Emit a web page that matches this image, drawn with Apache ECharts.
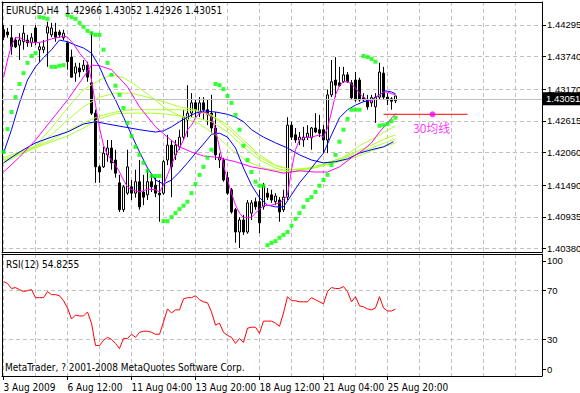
<!DOCTYPE html>
<html><head><meta charset="utf-8">
<script src="https://cdn.jsdelivr.net/npm/echarts/dist/echarts.min.js"></script>
<style>html,body{margin:0;padding:0;background:#fff}#c{width:580px;height:393px}</style>
</head><body><div id="c"></div>
<script>
const FONT = "'DejaVu Sans Condensed','Liberation Sans',sans-serif";
const AXFONT = "'Liberation Sans',sans-serif";
const FS = 10;
const chartTitle = 'EURUSD,H4  1.42966 1.43052 1.42926 1.43051';
const rsiTitle = 'RSI(12) 54.8255';
const copyright = 'MetaTrader, ? 2001-2008 MetaQuotes Software Corp.';
const lastPrice = 1.43051;

const barOpen = [1.4421,1.4417,1.4407,1.4403,1.4394,1.4400,1.4403,1.4398,1.4424,1.4386,
1.4386,1.4415,1.4412,1.4417,1.4417,1.4407,1.4398,1.4373,1.4345,1.4354,
1.4351,1.4359,1.4328,1.4275,1.4181,1.4181,1.4202,1.4214,1.4193,1.4153,
1.4106,1.4135,1.4146,1.4135,1.4155,1.4137,1.4132,1.4155,1.4149,1.4135,
1.4135,1.4193,1.4219,1.4202,1.4216,1.4233,1.4263,1.4275,1.4293,1.4275,
1.4293,1.4281,1.4275,1.4249,1.4193,1.4193,1.4162,1.4141,1.4106,1.4067,
1.4088,1.4067,1.4100,1.4120,1.4120,1.4111,1.4135,1.4132,1.4120,1.4123,
1.4106,1.4128,1.4254,1.4237,1.4228,1.4228,1.4233,1.4232,1.4249,1.4246,
1.4246,1.4228,1.4307,1.4333,1.4328,1.4330,1.4342,1.4328,1.4333,1.4333,
1.4302,1.4298,1.4293,1.4286,1.4303,1.4345,1.4303,1.4300,1.42966];
const barClose = [1.4408,1.4412,1.4391,1.4391,1.4403,1.4415,1.4398,1.4407,1.4400,1.4391,
1.4391,1.4426,1.4424,1.4408,1.4412,1.4415,1.4365,1.4338,1.4356,1.4347,
1.4359,1.4338,1.4275,1.4181,1.4172,1.4205,1.4214,1.4188,1.4170,1.4106,
1.4146,1.4181,1.4135,1.4155,1.4111,1.4128,1.4155,1.4146,1.4135,1.4132,
1.4190,1.4219,1.4181,1.4219,1.4233,1.4268,1.4275,1.4293,1.4281,1.4293,
1.4281,1.4272,1.4249,1.4202,1.4198,1.4158,1.4135,1.4102,1.4067,1.4088,
1.4067,1.4118,1.4118,1.4111,1.4083,1.4148,1.4128,1.4123,1.4130,1.4102,
1.4128,1.4254,1.4233,1.4228,1.4233,1.4233,1.4240,1.4249,1.4242,1.4240,
1.4228,1.4307,1.4330,1.4324,1.4323,1.4342,1.4330,1.4302,1.4298,1.4298,
1.4298,1.4286,1.4302,1.4303,1.4347,1.4303,1.4298,1.4296,1.43051];
const barLow = [1.4403,1.4407,1.4377,1.4389,1.4368,1.4386,1.4391,1.4391,1.4394,1.4365,
1.4380,1.4356,1.4408,1.4400,1.4407,1.4403,1.4351,1.4337,1.4330,1.4338,
1.4347,1.4330,1.4272,1.4153,1.4153,1.4179,1.4190,1.4176,1.4162,1.4102,
1.4102,1.4132,1.4123,1.4127,1.4106,1.4114,1.4123,1.4137,1.4128,1.4085,
1.4132,1.4184,1.4128,1.4193,1.4211,1.4228,1.4233,1.4268,1.4268,1.4268,
1.4263,1.4254,1.4240,1.4193,1.4179,1.4155,1.4132,1.4099,1.4048,1.4039,
1.4062,1.4064,1.4088,1.4106,1.4065,1.4106,1.4123,1.4118,1.4114,1.4085,
1.4102,1.4123,1.4228,1.4223,1.4219,1.4216,1.4228,1.4211,1.4240,1.4233,
1.4205,1.4205,1.4303,1.4303,1.4321,1.4328,1.4328,1.4298,1.4295,1.4295,
1.4295,1.4281,1.4286,1.4258,1.4298,1.4298,1.4289,1.4281,1.42926];
const barHigh = [1.4429,1.4424,1.4429,1.4408,1.4415,1.4429,1.4412,1.4415,1.4429,1.4398,
1.4403,1.4435,1.4433,1.4433,1.4421,1.4421,1.4400,1.4386,1.4363,1.4363,
1.4368,1.4365,1.4417,1.4281,1.4184,1.4216,1.4228,1.4228,1.4211,1.4167,
1.4149,1.4211,1.4158,1.4176,1.4193,1.4167,1.4176,1.4167,1.4162,1.4158,
1.4193,1.4237,1.4228,1.4228,1.4246,1.4281,1.4324,1.4310,1.4298,1.4303,
1.4303,1.4298,1.4307,1.4277,1.4205,1.4197,1.4172,1.4144,1.4109,1.4093,
1.4097,1.4123,1.4123,1.4127,1.4141,1.4153,1.4144,1.4141,1.4135,1.4128,
1.4141,1.4268,1.4260,1.4249,1.4242,1.4251,1.4254,1.4251,1.4275,1.4272,
1.4254,1.4316,1.4368,1.4373,1.4356,1.4356,1.4347,1.4333,1.4347,1.4337,
1.4310,1.4307,1.4307,1.4310,1.4363,1.4356,1.4310,1.4303,1.43052];

const sarValues = [1.4207,1.4247,1.4277,1.4303,1.4326,1.4345,1.4363,1.4375,1.4380,1.4443,
1.4442,1.4440,1.4356,1.4356,1.4358,1.4359,1.4447,1.4443,1.4440,1.4433,
1.4426,1.4419,1.4415,1.4412,1.4412,1.4386,1.4363,1.4342,1.4323,1.4307,
1.4284,1.4258,1.4235,1.4216,1.4202,1.4188,1.4174,1.4165,1.4165,1.4165,
1.4086,1.4086,1.4093,1.4100,1.4107,1.4113,1.4120,1.4135,1.4151,1.4167,
1.4181,1.4197,1.4211,1.4326,1.4324,1.4317,1.4305,1.4293,1.4272,1.4246,
1.4218,1.4193,1.4172,1.4155,1.4148,1.4148,1.4044,1.4048,1.4051,1.4057,
1.4062,1.4067,1.4078,1.4090,1.4100,1.4111,1.4123,1.4128,1.4137,1.4148,
1.4158,1.4167,1.4184,1.4202,1.4225,1.4246,1.4265,1.4281,1.4281,1.4281,
1.4375,1.4373,1.4370,1.4365,1.4253,1.4254,1.4256,1.4261,1.4267];

const maFastMagenta = [[0,1.4337],[1,1.4368],[2,1.4394],[3,1.4407],[4,1.4407],[6,1.4400],[8,1.4398],[10,1.4400],[12,1.4405],[14,1.4408],[15,1.4410],[16,1.4408],[17,1.4400],[18,1.4391],[19,1.4380],[20,1.4372],[21,1.4363],[22,1.4333],[23,1.4289],[24,1.4249],[25,1.4219],[26,1.4202],[27,1.4193],[28,1.4184],[29,1.4172],[30,1.4158],[31,1.4146],[32,1.4141],[34,1.4137],[36,1.4142],[38,1.4141],[39,1.4137],[40,1.4149],[41,1.4167],[42,1.4184],[43,1.4202],[44,1.4214],[45,1.4228],[46,1.4246],[47,1.4254],[48,1.4267],[49,1.4275],[50,1.4277],[51,1.4275],[52,1.4267],[53,1.4246],[54,1.4214],[55,1.4184],[56,1.4158],[57,1.4135],[58,1.4114],[59,1.4100],[60,1.4092],[61,1.4092],[62,1.4093],[63,1.4100],[64,1.4107],[65,1.4113],[67,1.4114],[69,1.4118],[70,1.4123],[71,1.4132],[72,1.4176],[73,1.4211],[74,1.4228],[75,1.4232],[77,1.4233],[79,1.4237],[80,1.4233],[81,1.4249],[82,1.4277],[83,1.4307],[84,1.4323],[85,1.4330],[86,1.4330],[87,1.4326],[88,1.4319],[89,1.4310],[90,1.4303],[91,1.4298],[92,1.4296],[93,1.4302],[94,1.4307],[95,1.4312],[96,1.4312],[97,1.4309],[98,1.4307]];
const maSlowMagenta = [[0,1.4172],[4,1.4198],[8,1.4228],[12,1.4263],[16,1.4298],[20,1.4338],[22,1.4359],[24,1.4358],[27,1.4351],[31,1.4321],[34,1.4286],[38,1.4251],[41,1.4233],[44,1.4216],[47,1.4207],[50,1.4200],[53,1.4198],[58,1.4190],[62,1.4181],[66,1.4176],[70,1.4170],[74,1.4174],[78,1.4172],[81,1.4172],[84,1.4181],[87,1.4197],[90,1.4211],[92,1.4223],[94,1.4242],[96,1.4258],[98,1.4274]];
const maFastBlue = [[0,1.4205],[2,1.4246],[4,1.4293],[6,1.4333],[8,1.4356],[10,1.4372],[12,1.4386],[14,1.4403],[16,1.4400],[18,1.4394],[20,1.4389],[22,1.4380],[24,1.4356],[26,1.4324],[28,1.4298],[30,1.4268],[32,1.4237],[34,1.4207],[36,1.4179],[38,1.4158],[40,1.4151],[42,1.4158],[44,1.4172],[46,1.4188],[48,1.4205],[50,1.4221],[52,1.4238],[54,1.4240],[56,1.4233],[58,1.4214],[60,1.4179],[62,1.4149],[64,1.4127],[66,1.4114],[68,1.4111],[70,1.4111],[72,1.4132],[74,1.4153],[76,1.4170],[78,1.4188],[80,1.4205],[82,1.4237],[84,1.4267],[86,1.4281],[88,1.4289],[90,1.4295],[92,1.4298],[94,1.4307],[95.5,1.4314],[97,1.4312],[98,1.4309]];
const maSlowBlue = [[0,1.4188],[4,1.4207],[8,1.4223],[12,1.4233],[16,1.4242],[20,1.4256],[23,1.4260],[26,1.4256],[30,1.4251],[34,1.4246],[38,1.4242],[40,1.4244],[42,1.4251],[44,1.4260],[46,1.4268],[48,1.4275],[50,1.4279],[53,1.4277],[56,1.4273],[58,1.4268],[60,1.4260],[62,1.4246],[65,1.4233],[68,1.4223],[71,1.4214],[74,1.4202],[77,1.4193],[80,1.4188],[83,1.4190],[86,1.4195],[89,1.4205],[92,1.4211],[95,1.4216],[97.5,1.4225]];
const maGreen1 = [[0,1.4197],[4,1.4207],[8,1.4218],[12,1.4249],[16,1.4284],[20,1.4316],[24,1.4333],[27,1.4342],[30,1.4337],[33,1.4324],[37,1.4303],[41,1.4281],[45,1.4267],[49,1.4256],[53,1.4237],[57,1.4211],[61,1.4190],[65,1.4179],[69,1.4174],[73,1.4174],[77,1.4179],[81,1.4188],[85,1.4198],[89,1.4218],[93,1.4233],[98,1.4253]];
const maGreen2 = [[0,1.4193],[4,1.4205],[8,1.4216],[12,1.4237],[16,1.4263],[20,1.4286],[24,1.4303],[28,1.4310],[32,1.4310],[36,1.4303],[40,1.4295],[44,1.4286],[48,1.4281],[52,1.4270],[56,1.4249],[60,1.4223],[64,1.4198],[68,1.4183],[72,1.4176],[76,1.4179],[80,1.4186],[84,1.4195],[88,1.4207],[92,1.4219],[96,1.4232],[98,1.4237]];
const maGreen3 = [[0,1.4191],[4,1.4204],[8,1.4216],[12,1.4228],[16,1.4244],[20,1.4258],[24,1.4270],[28,1.4277],[32,1.4281],[36,1.4281],[40,1.4281],[44,1.4281],[48,1.4279],[52,1.4272],[56,1.4254],[60,1.4228],[64,1.4202],[68,1.4184],[72,1.4176],[76,1.4177],[80,1.4184],[84,1.4193],[88,1.4204],[92,1.4214],[96,1.4225],[98,1.4230]];
const maGreen4 = [[0,1.4188],[4,1.4202],[8,1.4214],[12,1.4225],[16,1.4235],[20,1.4249],[24,1.4265],[28,1.4274],[32,1.4275],[36,1.4275],[40,1.4274],[44,1.4270],[48,1.4267],[52,1.4260],[56,1.4242],[60,1.4216],[64,1.4193],[68,1.4179],[72,1.4172],[76,1.4176],[80,1.4183],[84,1.4190],[88,1.4198],[92,1.4209],[96,1.4218],[98,1.4223]];

const rsiValues = [77.5,75.8,71.7,72.5,70.8,69.2,70,70.8,64.2,64.2,
64.2,69.2,66.7,66.7,65.8,61.7,55.8,46.7,50,49.2,
49.2,52.5,43.3,25,25,29.2,31.7,30,26.7,22.5,
30.8,30.8,34.2,31.7,35.8,36.7,36.7,35.8,34.2,34.2,
44.2,55,51.7,54.2,54.2,63.3,64.2,64.2,65.8,62.5,
60.8,60,52.5,41.7,43.3,35.8,33.3,31.7,26.7,30.8,
27.5,39.2,40,40,35,45,45,45,43.3,40.8,
51.7,65,61.7,61.7,60.8,60.8,60.8,64.2,62.5,60.8,
59.2,69.2,72.5,71.7,71.7,73.3,69.2,60.8,65,57.5,
56.7,55,54.2,55.8,65,55.8,53.3,53.3,54.8255];

const priceTicks = [1.40380,1.40935,1.41490,1.42060,1.42615,1.43170,1.43740,1.44295];
const priceTickLabels = ['1.40380','1.40935','1.41490','1.42060','1.42615','1.43170','1.43740','1.44295'];
const timeTicks = [0,16,32,48,64,80,96];
const timeTickLabels = ['3 Aug 2009','6 Aug 12:00','11 Aug 04:00','13 Aug 20:00','18 Aug 12:00','21 Aug 04:00','25 Aug 20:00'];
const timeGrid = [0,8,16,24,32,40,48,56,64,72,80,88,96,104,112,120,128];
const rsiGrid = [30,70];
const rsiLabelAt = [5.7,30,70,94.3];
const rsiTickLabels = ['0','30','70','100'];

// annotation: red trend line, magenta anchor and text "30均线"
const noteLine = [[95,1.4273],[116,1.4273]];
const noteDot = [[107.25,1.4273]];
const noteText = [[102.25,1.4250]];
const noteLabel = '30均线';

const XMIN = -0.375, XMAX = 134.625;
const gridColor = '#c0c0c0';
const dash = {color: gridColor, type: [4,3], width: 1};
const lbl = {fontFamily: FONT, fontSize: FS, color: '#000'};
const plbl = {fontFamily: AXFONT, fontSize: 9.5, color: '#000'};

const candleData = barOpen.map((o, i) => [i, o, barClose[i], barLow[i], barHigh[i]]);
const sarData = sarValues.map((v, i) => [i, v]);
const rsiData = rsiValues.map((v, i) => [i, v]);

function xAx(gridIndex, position, extra) {
  return Object.assign({type: 'value', gridIndex, position, min: XMIN, max: XMAX,
    axisLine: {show: true, onZero: false, lineStyle: {color: '#000', width: 1}},
    axisTick: {show: false}, axisLabel: {show: false}, splitLine: {show: false}}, extra || {});
}
function yAx(gridIndex, position, min, max, extra) {
  return Object.assign({type: 'value', gridIndex, position, min, max, scale: true,
    axisLine: {show: true, onZero: false, lineStyle: {color: '#000', width: 1}},
    axisTick: {show: false}, axisLabel: {show: false}, splitLine: {show: false}}, extra || {});
}
const PMIN = 1.4032, PMAX = 1.44695;

const lineS = (data, color, width, z) => ({type: 'line', data, xAxisIndex: 0, yAxisIndex: 0,
  showSymbol: false, symbol: 'none', lineStyle: {color, width}, z: z || 3, silent: true});
const ttl = (text, left, top) => ({text, left, top, padding: 0,
  textStyle: {fontFamily: FONT, fontSize: FS, fontWeight: 'normal', color: '#000'}});

const chart = echarts.init(document.getElementById('c'), null, {renderer: 'svg'});
chart.setOption({
  animation: false,
  backgroundColor: '#fff',
  textStyle: {fontFamily: FONT},
  title: [ttl(chartTitle, 6, 5), ttl(rsiTitle, 6, 259), ttl(copyright, 5, 362)],
  grid: [
    {left: 2, top: 2, width: 540, height: 250, containLabel: false, outerBoundsMode: 'none'},
    {left: 2, top: 254, width: 540, height: 122, containLabel: false, outerBoundsMode: 'none'}
  ],
  xAxis: [
    xAx(0, 'bottom', {axisTick: {show: false, customValues: timeGrid}, splitLine: {show: true, lineStyle: dash}}),
    xAx(0, 'top'),
    xAx(1, 'bottom', {axisTick: {show: true, length: 4, customValues: timeTicks, lineStyle: {color: '#000'}},
      axisLabel: Object.assign({show: true, customValues: timeTicks, align: 'left', margin: 6, hideOverlap: false,
        formatter: (v) => { const k = timeTicks.indexOf(Math.round(v)); return k >= 0 ? timeTickLabels[k] : ''; }}, lbl)}),
    xAx(1, 'top', {axisTick: {show: false, customValues: timeGrid}, splitLine: {show: true, lineStyle: dash}})
  ],
  yAxis: [
    yAx(0, 'right', PMIN, PMAX, {
      axisTick: {show: true, length: 4, customValues: priceTicks, lineStyle: {color: '#000'}},
      axisLabel: Object.assign({show: true, customValues: priceTicks, margin: 5,
        formatter: (v) => { let b = 0; priceTicks.forEach((t, k) => { if (Math.abs(t - v) < Math.abs(priceTicks[b] - v)) b = k; }); return priceTickLabels[b]; }}, plbl),
      splitLine: {show: true, lineStyle: dash}}),
    yAx(0, 'left', PMIN, PMAX),
    yAx(1, 'right', 0, 100, {
      axisTick: {show: true, length: 4, customValues: rsiLabelAt, lineStyle: {color: '#000'}},
      axisLabel: Object.assign({show: true, customValues: rsiLabelAt, margin: 5,
        formatter: (v) => { let b = 0; rsiLabelAt.forEach((t, k) => { if (Math.abs(t - v) < Math.abs(rsiLabelAt[b] - v)) b = k; }); return rsiTickLabels[b]; }}, plbl)}),
    yAx(1, 'left', 0, 100, {axisTick: {show: false, customValues: rsiGrid}, splitLine: {show: true, lineStyle: dash}})
  ],
  series: [
    {type: 'candlestick', xAxisIndex: 0, yAxisIndex: 0, data: candleData, encode: {x: 0, y: [1, 2, 3, 4]},
      barWidth: 3, z: 2, silent: true,
      itemStyle: {color: '#fff', color0: '#000', borderColor: '#000', borderColor0: '#000', borderWidth: 1},
      markLine: {silent: true, symbol: 'none', animation: false,
        lineStyle: {color: '#c0c0c0', type: 'solid', width: 1},
        label: {show: true, position: 'end', distance: 1, formatter: lastPrice.toFixed(5), color: '#fff', backgroundColor: '#000',
          padding: [2, 2, 1, 3], fontFamily: AXFONT, fontSize: 9.5},
        data: [{yAxis: lastPrice}]}},
    lineS(maGreen4, '#adff2f', 1),
    lineS(maGreen3, '#adff2f', 1),
    lineS(maGreen2, '#adff2f', 1),
    lineS(maGreen1, '#adff2f', 1),
    lineS(maSlowBlue, '#0000ff', 1),
    lineS(maSlowMagenta, '#ff00ff', 1),
    lineS(maFastBlue, '#0000ff', 1),
    lineS(maFastMagenta, '#ff00ff', 1),
    {type: 'scatter', xAxisIndex: 0, yAxisIndex: 0, data: sarData, symbol: 'rect', symbolSize: 4, z: 5, silent: true,
      itemStyle: {color: '#00ff00'}},
    lineS(noteLine, '#ff0000', 1, 4),
    {type: 'scatter', xAxisIndex: 0, yAxisIndex: 0, data: noteDot, symbol: 'circle', symbolSize: 6, z: 5, silent: true,
      itemStyle: {color: '#ff00ff'}},
    {type: 'scatter', xAxisIndex: 0, yAxisIndex: 0, data: noteText, symbolSize: 1, z: 5, silent: true,
      itemStyle: {color: 'rgba(0,0,0,0)'},
      label: {show: true, position: 'right', distance: 0, formatter: noteLabel, color: '#ff00ff', fontSize: 12,
        fontFamily: "'Noto Sans CJK SC', sans-serif"}},
    {type: 'line', xAxisIndex: 2, yAxisIndex: 2, data: rsiData, showSymbol: false, symbol: 'none',
      lineStyle: {color: '#ff0000', width: 1}, z: 3, silent: true}
  ]
});
</script></body></html>
